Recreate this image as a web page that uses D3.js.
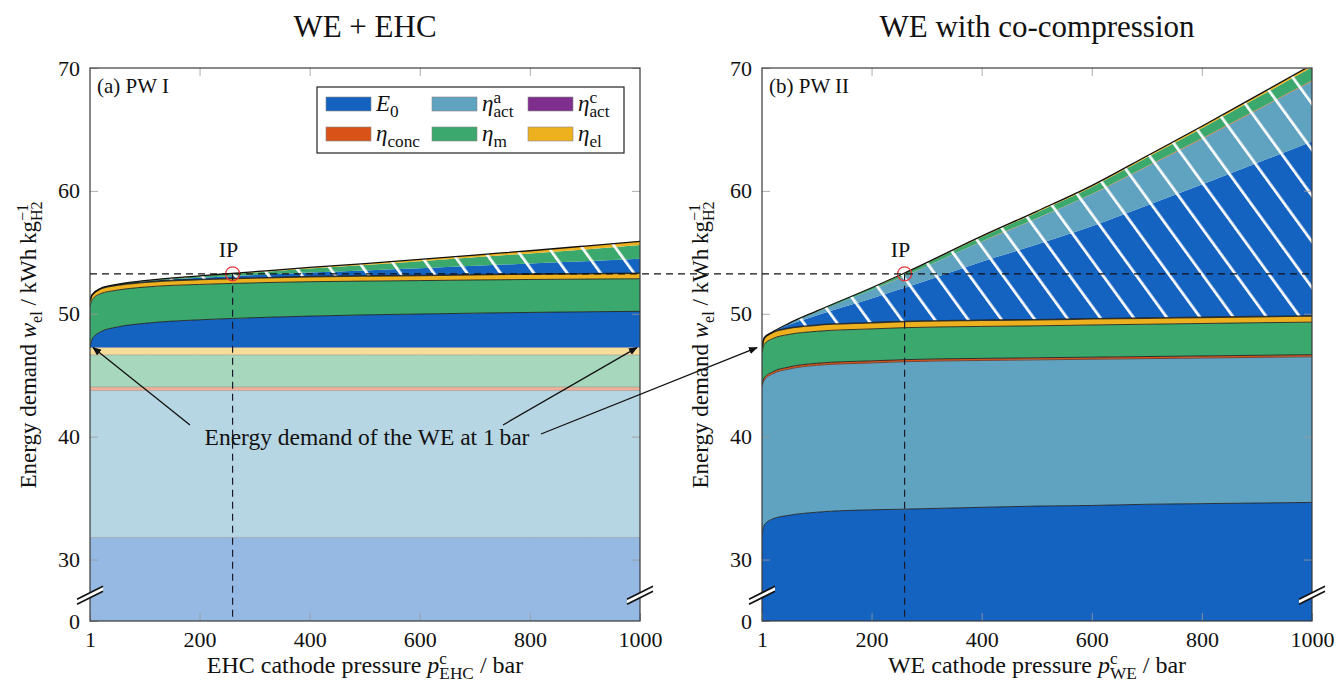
<!DOCTYPE html>
<meta charset="utf-8">
<style>
  body { margin: 0; background: #fff; }
  text { font-family: "Liberation Serif", "DejaVu Serif", serif; fill: #111; white-space: pre; }
</style>
<body>
<script src="https://d3js.org/d3.v7.min.js"></script>
<script>

// pressure grid (bar) on which the curves were read
var pressures = [1, 5, 20, 50, 100, 200, 260, 400, 500, 600, 700, 800, 900, 1000];

// (a) WE at 1 bar : constant bands, E0, act a, act c, conc, m, el
var weOneBar = [31.8, 11.95, 0, 0.3, 2.6, 0.6];

// (a) EHC contributions on top of the WE
var ehcE0 = [0, 0.69, 1.28, 1.67, 1.97, 2.26, 2.37, 2.56, 2.66, 2.73, 2.80, 2.86, 2.91, 2.95];
var ehcM = [3.4, 3.2, 3.1, 3.0, 2.95, 2.88, 2.85, 2.8, 2.75, 2.72, 2.7, 2.68, 2.66, 2.65];
var ehcEl = [0.4, 0.4, 0.4, 0.4, 0.4, 0.4, 0.4, 0.41, 0.42, 0.42, 0.43, 0.44, 0.44, 0.45];
// (a) hatched part (hydrogen losses)
var ehcE0Loss = [0, 0.005, 0.014, 0.03, 0.06, 0.14, 0.19, 0.34, 0.45, 0.59, 0.72, 0.86, 1.01, 1.17];
var ehcMLoss = [0, 0.004, 0.013, 0.03, 0.056, 0.13, 0.18, 0.32, 0.43, 0.56, 0.69, 0.82, 0.97, 1.12];
var ehcElLoss = [0, 0.001, 0.003, 0.01, 0.014, 0.03, 0.05, 0.09, 0.12, 0.15, 0.19, 0.22, 0.27, 0.31];

// (b) WE with co-compression
var weE0 = [32.0, 32.8, 33.3, 33.6, 33.85, 34.05, 34.1, 34.25, 34.35, 34.4, 34.5, 34.55, 34.6, 34.65];
var weActA = [12.1, 11.8, 11.8, 11.9, 11.95, 11.95, 12.0, 11.95, 11.9, 11.9, 11.85, 11.85, 11.85, 11.85];
var weActC = [0.02, 0.02, 0.02, 0.02, 0.02, 0.02, 0.02, 0.02, 0.02, 0.02, 0.02, 0.02, 0.02, 0.02];
var weConc = [0.15, 0.15, 0.15, 0.15, 0.15, 0.15, 0.15, 0.15, 0.15, 0.15, 0.15, 0.15, 0.15, 0.15];
var weM = [2.55, 2.75, 2.7, 2.65, 2.6, 2.6, 2.6, 2.6, 2.6, 2.62, 2.63, 2.64, 2.65, 2.65];
var weEl = [0.45, 0.5, 0.5, 0.5, 0.5, 0.5, 0.5, 0.5, 0.5, 0.5, 0.5, 0.5, 0.5, 0.5];
// (b) hatched part
var weE0Loss = [0, 0.01, 0.03, 0.28, 0.8, 1.98, 2.74, 4.76, 6.12, 7.53, 9.16, 10.8, 12.5, 14.2];
var weActALoss = [0, 0.005, 0.012, 0.1, 0.28, 0.68, 0.95, 1.64, 2.11, 2.6, 3.16, 3.72, 4.3, 4.9];
var weConcLoss = [0, 0, 0, 0, 0, 0.01, 0.01, 0.02, 0.03, 0.03, 0.04, 0.05, 0.05, 0.06];
var weMLoss = [0, 0, 0, 0.02, 0.06, 0.15, 0.21, 0.36, 0.47, 0.57, 0.7, 0.82, 0.95, 1.08];
var weElLoss = [0, 0, 0, 0.005, 0.01, 0.03, 0.04, 0.07, 0.09, 0.11, 0.13, 0.16, 0.18, 0.2];

var xTicks = [1, 200, 400, 600, 800, 1000];
var yTicks = [0, 30, 40, 50, 60, 70];
var ipPressure = 260, ipDemand = 53.25, oneBarDemand = 47.25;

var colors = { E0: "#1463c1", actA: "#5fa3c1", actC: "#7e2f8e", conc: "#d95319", m: "#3ba86e", el: "#edb120" };

var svg = d3.select("body").append("svg")
  .attr("width", 1338)
  .attr("height", 684);

var defs = svg.append("defs");

// white diagonal stripes for the hatched areas
var hatch = defs.append("pattern")
  .attr("id", "hatch")
  .attr("patternUnits", "userSpaceOnUse")
  .attr("width", 27)
  .attr("height", 27)
  .attr("patternTransform", "rotate(-36)");
hatch.append("rect").attr("x", 0).attr("y", 0).attr("width", 2.7).attr("height", 27).attr("fill", "#fff");

defs.append("marker")
  .attr("id", "arrow")
  .attr("viewBox", "0 0 10 10")
  .attr("refX", 9).attr("refY", 5)
  .attr("markerWidth", 9).attr("markerHeight", 9)
  .attr("markerUnits", "userSpaceOnUse")
  .attr("orient", "auto")
  .append("path").attr("d", "M0,1 L10,5 L0,9 Z").attr("fill", "#111");

// axis break: 0..25 collapsed
var yTop = 68, yBot = 621;
var y = d3.scaleLinear().domain([0, 25, 70]).range([yBot, yBot, yTop]);

// writes text with italic / super / subscript pieces
function addMath(text, pieces, subScale) {
  var fs = parseFloat(text.attr("font-size"));
  var k = subScale || 0.7;
  var shift = 0, lastW = 0;
  pieces.forEach(function (p) {
    var t = text.append("tspan").text(p[0]);
    var target = 0;
    if (p[1] === "sup") target = -0.36 * fs;
    if (p[1] === "sub" || p[1] === "subUnder") target = 0.27 * fs;
    if (target !== 0) t.attr("font-size", fs * k);
    if (p[1] === "i") t.style("font-style", "italic");
    if (target - shift !== 0) t.attr("dy", target - shift);
    shift = target;
    if (p[1] === "subUnder") t.attr("dx", -lastW);
    lastW = t.node().getComputedTextLength();
  });
}

function rowsFrom(layers) {
  return pressures.map(function (p, i) {
    var r = { p: p };
    layers.forEach(function (L, j) { r["k" + j] = L.values[i]; });
    return r;
  });
}

var panels = [
  {
    x0: 90, x1: 640, title: "WE + EHC", tag: "(a) PW I", sub: "EHC",
    layers: [
      { c: "E0", kind: "pale", values: pressures.map(function () { return weOneBar[0]; }) },
      { c: "actA", kind: "pale", values: pressures.map(function () { return weOneBar[1]; }) },
      { c: "actC", kind: "pale", values: pressures.map(function () { return weOneBar[2]; }) },
      { c: "conc", kind: "pale", values: pressures.map(function () { return weOneBar[3]; }) },
      { c: "m", kind: "pale", values: pressures.map(function () { return weOneBar[4]; }) },
      { c: "el", kind: "pale", values: pressures.map(function () { return weOneBar[5]; }) },
      { c: "E0", kind: "solid", values: ehcE0 },
      { c: "m", kind: "solid", values: ehcM },
      { c: "el", kind: "solid", values: ehcEl },
      { c: "E0", kind: "loss", values: ehcE0Loss },
      { c: "m", kind: "loss", values: ehcMLoss },
      { c: "el", kind: "loss", values: ehcElLoss }
    ]
  },
  {
    x0: 762, x1: 1312, title: "WE with co-compression", tag: "(b) PW II", sub: "WE",
    layers: [
      { c: "E0", kind: "solid", values: weE0 },
      { c: "actA", kind: "solid", values: weActA },
      { c: "actC", kind: "solid", values: weActC },
      { c: "conc", kind: "solid", values: weConc },
      { c: "m", kind: "solid", values: weM },
      { c: "el", kind: "solid", values: weEl },
      { c: "E0", kind: "loss", values: weE0Loss },
      { c: "actA", kind: "loss", values: weActALoss },
      { c: "conc", kind: "loss", values: weConcLoss },
      { c: "m", kind: "loss", values: weMLoss },
      { c: "el", kind: "loss", values: weElLoss }
    ]
  }
];

panels.forEach(function (P, pi) {
  var x = d3.scaleLinear().domain([1, 1000]).range([P.x0, P.x1]);
  P.x = x;
  var g = svg.append("g");

  var clipId = "clip" + pi;
  defs.append("clipPath").attr("id", clipId)
    .append("rect").attr("x", P.x0).attr("y", yTop).attr("width", P.x1 - P.x0).attr("height", yBot - yTop);

  var keys = P.layers.map(function (L, j) { return "k" + j; });
  var series = d3.stack().keys(keys)(rowsFrom(P.layers));

  var area = d3.area()
    .x(function (d) { return x(d.data.p); })
    .y0(function (d) { return y(d[0]); })
    .y1(function (d) { return y(d[1]); })
    .curve(d3.curveMonotoneX);
  var top = d3.line()
    .x(function (d) { return x(d.data.p); })
    .y(function (d) { return y(d[1]); })
    .curve(d3.curveMonotoneX);

  var plot = g.append("g").attr("clip-path", "url(#" + clipId + ")");

  plot.selectAll(".layer")
    .data(series)
    .enter().append("path")
    .attr("class", "layer")
    .attr("d", area)
    .attr("fill", function (s, j) { return colors[P.layers[j].c]; })
    .attr("fill-opacity", function (s, j) { return P.layers[j].kind === "pale" ? 0.45 : 1; });

  // hatched overlay between solid top and total top
  var lastSolid = -1;
  P.layers.forEach(function (L, j) { if (L.kind !== "loss") lastSolid = j; });
  var solidTop = series[lastSolid], total = series[series.length - 1];
  var hatchArea = d3.area()
    .x(function (d) { return x(d.data.p); })
    .y0(function (d, i) { return y(solidTop[i][1]); })
    .y1(function (d) { return y(d[1]); })
    .curve(d3.curveMonotoneX);
  plot.append("path").datum(total).attr("d", hatchArea).attr("fill", "url(#hatch)");

  // boundary lines
  series.forEach(function (s, j) {
    var L = P.layers[j];
    if (L.kind === "loss" || d3.max(L.values) === 0 || L.c === "actC") return;
    plot.append("path").datum(s).attr("d", top)
      .attr("fill", "none")
      .attr("stroke", L.kind === "pale" ? "#8c8c8c" : (L.c === "actA" ? "#6b3a22" : "#1c1c1c"))
      .attr("stroke-opacity", L.kind === "pale" ? 0.7 : 0.85)
      .attr("stroke-width", j === lastSolid ? 1.6 : (L.kind === "pale" ? 0.7 : 1));
  });
  plot.append("path").datum(total).attr("d", top)
    .attr("fill", "none").attr("stroke", "#111").attr("stroke-width", 1.3);

  // inner ticks on all four sides
  var tickStyle = function (sel) {
    sel.select(".domain").remove();
    sel.attr("font-family", null);
    sel.selectAll(".tick line").attr("stroke", "#9a9a9a").attr("stroke-opacity", 0.8);
    sel.selectAll("text").attr("font-size", 22).attr("fill", "#111");
  };
  g.append("g").attr("transform", "translate(" + P.x0 + ",0)")
    .call(d3.axisLeft(y).tickValues(yTicks).tickSize(-8).tickPadding(10).tickFormat(d3.format("d")))
    .call(tickStyle);
  g.append("g").attr("transform", "translate(" + P.x1 + ",0)")
    .call(d3.axisRight(y).tickValues(yTicks.slice(1)).tickSize(-8).tickFormat(""))
    .call(tickStyle);
  g.append("g").attr("transform", "translate(0," + yBot + ")")
    .call(d3.axisBottom(x).tickValues(xTicks).tickSize(-8).tickPadding(10).tickFormat(d3.format("d")))
    .call(tickStyle);
  g.append("g").attr("transform", "translate(0," + yTop + ")")
    .call(d3.axisTop(x).tickValues(xTicks.slice(1, -1)).tickSize(-8).tickFormat(""))
    .call(tickStyle);

  // frame
  g.append("rect")
    .attr("x", P.x0).attr("y", yTop)
    .attr("width", P.x1 - P.x0).attr("height", yBot - yTop)
    .attr("fill", "none").attr("stroke", "#3a3a3a").attr("stroke-width", 1.2);

  // axis break marks
  var by = y(27.1);
  [P.x0, P.x1].forEach(function (bx) {
    g.append("path")
      .attr("d", "M" + (bx - 13) + "," + (by + 4) + "L" + (bx + 13) + "," + (by - 9) +
        "L" + (bx + 13) + "," + (by - 4) + "L" + (bx - 13) + "," + (by + 9) + "Z")
      .attr("fill", "#fff");
    [0, 5].forEach(function (o) {
      g.append("line")
        .attr("x1", bx - 13).attr("y1", by + 4 + o)
        .attr("x2", bx + 13).attr("y2", by - 9 + o)
        .attr("stroke", "#111").attr("stroke-width", 1.8);
    });
  });

  // vertical dashed line at the intersection point
  g.append("line")
    .attr("x1", x(ipPressure)).attr("x2", x(ipPressure))
    .attr("y1", y(ipDemand)).attr("y2", yBot)
    .attr("stroke", "#1a1a2a").attr("stroke-width", 1.2).attr("stroke-dasharray", "7,5");

  g.append("circle")
    .attr("cx", x(ipPressure)).attr("cy", y(ipDemand)).attr("r", 7)
    .attr("fill", "none").attr("stroke", "#e5383b").attr("stroke-width", 1.3);
  g.append("text")
    .attr("x", x(ipPressure) - 4).attr("y", 257)
    .attr("text-anchor", "middle").attr("font-size", 22).text("IP");

  g.append("text").attr("x", P.x0 + 7).attr("y", 93).attr("font-size", 21).text(P.tag);

  g.append("text")
    .attr("x", (P.x0 + P.x1) / 2).attr("y", 37)
    .attr("text-anchor", "middle").attr("font-size", 31).text(P.title);

  var xl = g.append("text")
    .attr("x", (P.x0 + P.x1) / 2).attr("y", 673)
    .attr("text-anchor", "middle").attr("font-size", 24);
  addMath(xl, [[P.sub + " cathode pressure ", "n"], ["p", "i"], ["c", "sup"], [P.sub, "subUnder"], [" / bar", "n"]], 0.72);

  var yl = g.append("text")
    .attr("transform", "translate(" + (P.x0 - 54) + ",345) rotate(-90)")
    .attr("text-anchor", "middle").attr("font-size", 23);
  addMath(yl, [["Energy demand ", "n"], ["w", "i"], ["el", "sub"], [" / kWh\u2009kg", "n"], ["\u22121", "sup"], ["H2", "subUnder"]]);
});

// horizontal dashed line through both panels
svg.append("line")
  .attr("x1", panels[0].x0).attr("x2", panels[1].x1)
  .attr("y1", y(ipDemand)).attr("y2", y(ipDemand))
  .attr("stroke", "#111").attr("stroke-width", 1.2).attr("stroke-dasharray", "7,5");

// legend
var legendItems = [
  { c: "E0", label: [["E", "i"], ["0", "sub"]] },
  { c: "actA", label: [["\u03b7", "i"], ["a", "sup"], ["act", "subUnder"]] },
  { c: "actC", label: [["\u03b7", "i"], ["c", "sup"], ["act", "subUnder"]] },
  { c: "conc", label: [["\u03b7", "i"], ["conc", "sub"]] },
  { c: "m", label: [["\u03b7", "i"], ["m", "sub"]] },
  { c: "el", label: [["\u03b7", "i"], ["el", "sub"]] }
];
var lg = svg.append("g");
lg.append("rect").attr("x", 317).attr("y", 87).attr("width", 307).attr("height", 66)
  .attr("fill", "#fff").attr("stroke", "#222").attr("stroke-width", 1.2);
var colX = [326, 432, 528];
legendItems.forEach(function (it, i) {
  var cx = colX[i % 3], cy = i < 3 ? 104 : 134;
  lg.append("rect").attr("x", cx).attr("y", cy - 7).attr("width", 45).attr("height", 14)
    .attr("fill", colors[it.c]).attr("stroke", "#888").attr("stroke-width", 0.6);
  var t = lg.append("text").attr("x", cx + 50).attr("y", cy + 7).attr("font-size", 23);
  addMath(t, it.label, 0.75);
});

// annotation arrows
var xa = panels[0].x, xb = panels[1].x;
svg.append("text").attr("x", 367).attr("y", 445).attr("text-anchor", "middle")
  .attr("font-size", 23.5).text("Energy demand of the WE at 1\u2009bar");
[
  [190, 425, xa(1) + 3, y(oneBarDemand)],
  [503, 425, xa(1000) - 3, y(oneBarDemand)],
  [541, 434, xb(1) - 5, y(oneBarDemand)]
].forEach(function (a) {
  svg.append("line")
    .attr("x1", a[0]).attr("y1", a[1]).attr("x2", a[2]).attr("y2", a[3])
    .attr("stroke", "#111").attr("stroke-width", 1.3)
    .attr("marker-end", "url(#arrow)");
});

</script>
</body>
